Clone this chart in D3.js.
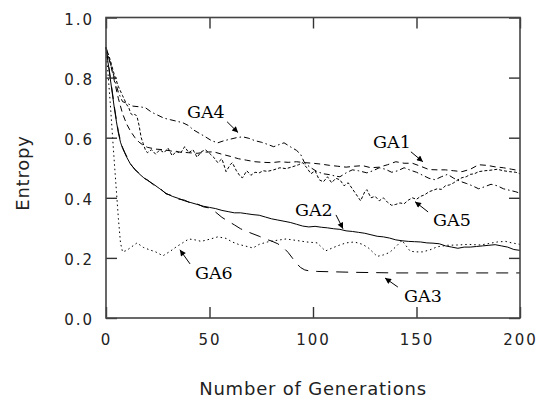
<!DOCTYPE html>
<html>
<head>
<meta charset="utf-8">
<script src="https://cdn.jsdelivr.net/npm/d3@7"></script>
<style>
  body { margin: 0; background: #fff; }
  svg { display: block; }
</style>
</head>
<body>
<div id="chart"></div>
<script>
// tick values
const xTicks = [0, 50, 100, 150, 200];
const yTicks = [0.0, 0.2, 0.4, 0.6, 0.8, 1.0];

// [generation, entropy]
const ga1 = [[0,0.90],[2,0.85],[4,0.79],[6,0.73],[8,0.68],[10,0.645],[12,0.62],[14,0.60],[16,0.585],[18,0.575],[20,0.568],[24,0.562],[28,0.56],[32,0.555],[36,0.552],[40,0.55],[44,0.548],[48,0.552],[52,0.553],[56,0.545],[60,0.538],[64,0.53],[68,0.525],[72,0.52],[76,0.518],[80,0.517],[84,0.52],[88,0.518],[92,0.52],[96,0.517],[100,0.515],[104,0.512],[108,0.508],[112,0.505],[116,0.502],[120,0.505],[124,0.507],[128,0.50],[132,0.502],[136,0.51],[140,0.52],[144,0.515],[148,0.515],[152,0.505],[156,0.494],[160,0.493],[164,0.493],[168,0.49],[172,0.487],[176,0.495],[180,0.51],[184,0.508],[188,0.503],[192,0.50],[196,0.495],[200,0.49]];

const ga2 = [[0,0.90],[1,0.85],[2,0.80],[3,0.75],[4,0.70],[5,0.655],[6,0.615],[7,0.585],[8,0.565],[9,0.55],[10,0.535],[12,0.51],[14,0.495],[16,0.48],[18,0.468],[20,0.458],[23,0.445],[26,0.43],[29,0.415],[32,0.405],[35,0.398],[38,0.39],[41,0.384],[44,0.378],[47,0.372],[50,0.368],[53,0.364],[56,0.358],[59,0.354],[62,0.35],[65,0.35],[68,0.347],[71,0.344],[74,0.342],[77,0.336],[80,0.33],[83,0.326],[86,0.322],[89,0.318],[92,0.312],[95,0.306],[98,0.303],[101,0.305],[104,0.302],[107,0.30],[110,0.297],[113,0.295],[116,0.29],[119,0.288],[122,0.285],[125,0.282],[128,0.277],[131,0.272],[134,0.27],[137,0.266],[140,0.26],[143,0.257],[146,0.255],[149,0.254],[152,0.253],[155,0.25],[158,0.249],[161,0.247],[164,0.24],[167,0.236],[170,0.232],[173,0.236],[176,0.236],[179,0.238],[182,0.24],[185,0.242],[188,0.244],[191,0.24],[194,0.236],[197,0.228],[200,0.225]];

const ga3 = [[0,0.90],[1,0.855],[2,0.805],[3,0.755],[4,0.705],[5,0.66],[6,0.62],[7,0.59],[8,0.568],[9,0.552],[10,0.538],[12,0.512],[14,0.493],[16,0.482],[18,0.466],[20,0.46],[23,0.443],[26,0.432],[29,0.413],[32,0.407],[35,0.396],[38,0.392],[41,0.382],[44,0.38],[47,0.37],[50,0.366],[53,0.352],[56,0.335],[59,0.322],[62,0.31],[65,0.297],[68,0.288],[71,0.28],[74,0.272],[77,0.263],[80,0.256],[83,0.247],[86,0.232],[88,0.218],[90,0.20],[92,0.182],[94,0.168],[96,0.16],[98,0.157],[102,0.155],[120,0.152],[140,0.15],[200,0.15]];

const ga4 = [[0,0.90],[2,0.85],[4,0.80],[6,0.75],[8,0.72],[10,0.715],[13,0.705],[16,0.703],[19,0.70],[22,0.685],[25,0.675],[28,0.665],[31,0.66],[34,0.655],[37,0.65],[40,0.64],[42,0.627],[45,0.615],[48,0.603],[51,0.59],[54,0.583],[57,0.59],[60,0.595],[63,0.60],[66,0.603],[69,0.598],[72,0.59],[75,0.585],[78,0.578],[81,0.57],[84,0.578],[86,0.583],[89,0.57],[92,0.558],[94,0.545],[96,0.515],[99,0.50],[102,0.487],[105,0.48],[108,0.477],[111,0.472],[113,0.47],[116,0.483],[119,0.493],[122,0.49],[126,0.483],[129,0.49],[132,0.50],[135,0.495],[138,0.485],[141,0.49],[144,0.50],[147,0.492],[150,0.485],[153,0.475],[156,0.465],[159,0.46],[162,0.47],[165,0.478],[168,0.465],[171,0.455],[174,0.448],[177,0.44],[180,0.43],[183,0.437],[186,0.445],[189,0.44],[192,0.43],[195,0.425],[198,0.42],[200,0.415]];

const ga5 = [[0,0.90],[2,0.86],[4,0.81],[6,0.77],[8,0.74],[10,0.71],[11,0.70],[12,0.68],[13,0.675],[14,0.678],[15,0.67],[16,0.64],[17,0.60],[18,0.58],[19,0.56],[20,0.55],[22,0.56],[24,0.545],[26,0.56],[28,0.55],[30,0.565],[32,0.54],[34,0.555],[36,0.548],[38,0.57],[40,0.55],[42,0.56],[44,0.535],[46,0.553],[48,0.56],[50,0.548],[52,0.535],[54,0.517],[56,0.53],[58,0.487],[60,0.51],[61,0.517],[63,0.49],[65,0.47],[66,0.467],[68,0.49],[70,0.475],[72,0.485],[74,0.483],[76,0.49],[78,0.488],[81,0.493],[84,0.50],[87,0.497],[90,0.503],[93,0.51],[95,0.517],[97,0.50],[99,0.48],[101,0.49],[103,0.46],[105,0.453],[107,0.47],[109,0.45],[111,0.465],[113,0.46],[115,0.44],[117,0.45],[119,0.43],[121,0.41],[123,0.39],[125,0.42],[126,0.427],[128,0.40],[130,0.405],[132,0.39],[134,0.40],[136,0.385],[138,0.375],[140,0.378],[142,0.383],[144,0.38],[146,0.392],[148,0.40],[150,0.395],[152,0.405],[154,0.41],[156,0.42],[158,0.425],[160,0.43],[162,0.428],[164,0.44],[166,0.443],[168,0.45],[170,0.46],[172,0.467],[174,0.47],[176,0.478],[178,0.48],[180,0.487],[183,0.49],[186,0.492],[189,0.495],[192,0.49],[195,0.487],[198,0.485],[200,0.48]];

const ga6 = [[0,0.90],[2,0.72],[4,0.52],[6,0.33],[7,0.25],[8,0.22],[10,0.225],[12,0.235],[15,0.25],[18,0.235],[21,0.227],[24,0.22],[27.5,0.207],[31,0.222],[34,0.237],[37,0.25],[40,0.263],[43,0.26],[46,0.255],[50,0.262],[54,0.27],[58,0.265],[61,0.253],[64,0.245],[67,0.24],[71,0.233],[74,0.245],[78,0.253],[82,0.258],[87,0.263],[92,0.258],[97,0.253],[102,0.25],[106,0.223],[110,0.235],[113,0.243],[116,0.25],[120,0.253],[124,0.245],[127,0.232],[131,0.205],[134,0.21],[137,0.218],[140,0.237],[143,0.258],[145,0.24],[147,0.222],[150,0.22],[153,0.22],[157,0.228],[160,0.237],[165,0.242],[170,0.243],[175,0.245],[181,0.243],[185,0.248],[189,0.253],[193,0.255],[196,0.25],[200,0.245]];

const seriesNames = ["GA1", "GA2", "GA3", "GA4", "GA5", "GA6"];
const seriesData = [ga1, ga2, ga3, ga4, ga5, ga6];
const dashes = ["6,4", null, "12,8", "6,3,1.5,3", "3,2", "1.5,3"];

// label text anchor + arrow tail/head, in data units
const labelAt = [[129,0.567],[91.3,0.34],[144,0.053],[39.1,0.667],[158,0.307],[43,0.13]];
const arrowFrom = [[147.3,0.553],[111.1,0.343],[141,0.103],[58.5,0.653],[155.6,0.353],[40.6,0.18]];
const arrowTo = [[153.1,0.52],[114.5,0.297],[134.8,0.133],[63.8,0.617],[149.3,0.387],[35.7,0.227]];

const W = 542, H = 401;
const svg = d3.select("#chart").append("svg")
    .attr("width", W)
    .attr("height", H);

const x = d3.scaleLinear().domain([0, 200]).range([106, 520]);
const y = d3.scaleLinear().domain([0, 1]).range([318, 17.5]);

const tickFont = "'DejaVu Sans', sans-serif";

svg.append("defs").append("marker")
    .attr("id", "head")
    .attr("viewBox", "0 0 10 10")
    .attr("refX", 10).attr("refY", 5)
    .attr("markerWidth", 8).attr("markerHeight", 6)
    .attr("markerUnits", "userSpaceOnUse")
    .attr("orient", "auto")
    .append("path")
    .attr("d", "M0,0 L10,5 L0,10 z")
    .attr("fill", "#000");

// lines
const line = d3.line().x(d => x(d[0])).y(d => y(d[1]));
svg.append("g").selectAll("path")
    .data(seriesData)
    .join("path")
    .attr("d", line)
    .attr("fill", "none")
    .attr("stroke", "#000")
    .attr("stroke-width", 1)
    .attr("stroke-dasharray", (d, i) => dashes[i]);

// axes, ticks point inward on all four sides
function styleAxis(g) {
    g.select(".domain").remove();
    g.selectAll(".tick line").attr("stroke", "#333").attr("stroke-width", 1.4);
    g.selectAll(".tick text")
        .attr("font-family", tickFont)
        .attr("font-size", 15)
        .attr("letter-spacing", "2px")
        .attr("fill", "#222");
}

svg.append("g")
    .attr("transform", `translate(0,${y(0)})`)
    .call(d3.axisBottom(x).tickValues(xTicks).tickSize(-11).tickPadding(16).tickFormat(d3.format("d")))
    .call(styleAxis);

svg.append("g")
    .attr("transform", `translate(${x(0)},0)`)
    .call(d3.axisLeft(y).tickValues(yTicks).tickSize(-11).tickPadding(12).tickFormat(d3.format(".1f")))
    .call(styleAxis)
    .selectAll(".tick text").attr("dy", "0.45em");

svg.append("g")
    .attr("transform", `translate(0,${y(1)})`)
    .call(d3.axisTop(x).tickValues(xTicks).tickSize(-11).tickFormat(""))
    .call(styleAxis);

svg.append("g")
    .attr("transform", `translate(${x(200)},0)`)
    .call(d3.axisRight(y).tickValues(yTicks).tickSize(-11).tickFormat(""))
    .call(styleAxis);

svg.append("rect")
    .attr("x", x(0)).attr("y", y(1))
    .attr("width", x(200) - x(0))
    .attr("height", y(0) - y(1))
    .attr("fill", "none")
    .attr("stroke", "#444")
    .attr("stroke-width", 1.6);

// axis titles
svg.append("text")
    .attr("x", (x(0) + x(200)) / 2)
    .attr("y", 395)
    .attr("text-anchor", "middle")
    .attr("font-family", tickFont)
    .attr("font-size", 18)
    .attr("letter-spacing", "0.8px")
    .attr("fill", "#222")
    .text("Number of Generations");

svg.append("text")
    .attr("transform", "translate(29,173) rotate(-90)")
    .attr("text-anchor", "middle")
    .attr("font-family", tickFont)
    .attr("font-size", 18)
    .attr("letter-spacing", "0.8px")
    .attr("fill", "#222")
    .text("Entropy");

// series labels with arrows
const notes = svg.append("g");
seriesNames.forEach((name, i) => {
    notes.append("text")
        .attr("x", x(labelAt[i][0]))
        .attr("y", y(labelAt[i][1]))
        .attr("font-family", "'DejaVu Serif', serif")
        .attr("font-size", 17.5)
        .attr("fill", "#000")
        .text(name);
    notes.append("line")
        .attr("x1", x(arrowFrom[i][0])).attr("y1", y(arrowFrom[i][1]))
        .attr("x2", x(arrowTo[i][0])).attr("y2", y(arrowTo[i][1]))
        .attr("stroke", "#000")
        .attr("stroke-width", 1)
        .attr("marker-end", "url(#head)");
});
</script>
</body>
</html>
